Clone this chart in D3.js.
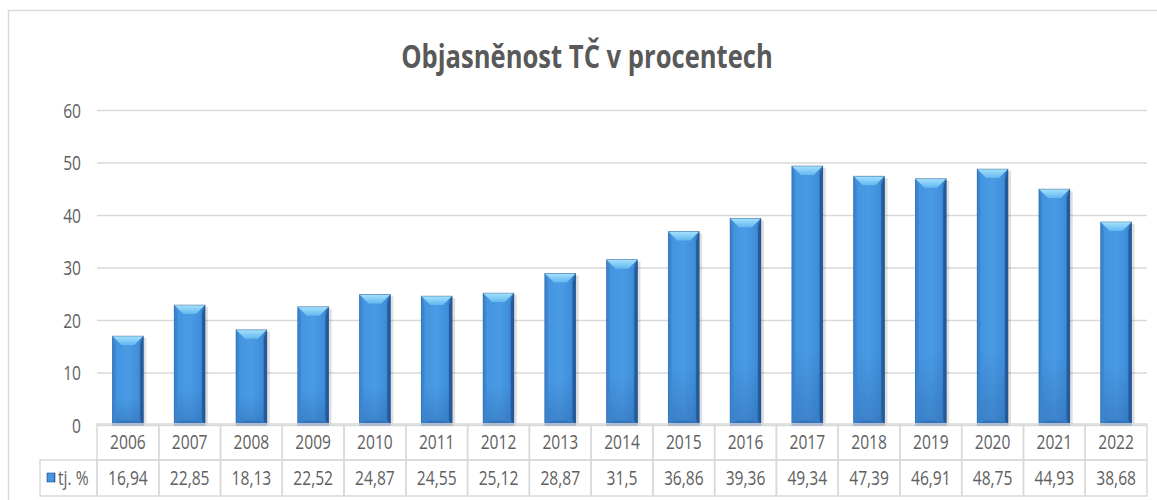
<!DOCTYPE html>
<html lang="cs">
<head>
<meta charset="UTF-8">
<title>Objasněnost TČ v procentech</title>
<script src="https://d3js.org/d3.v7.min.js"></script>
<style>
    body {
    margin: 0;
    background: white;
    }
    text {
    font-family: "Open Sans", "Noto Sans", sans-serif;
    fill: #5f5f5f;
    }
    .title {
    font-size: 32px;
    font-weight: bold;
    fill: #595959;
    }
    .tick-label {
    font-size: 19.5px;
    }
    .grid line {
    stroke: #d9d9d9;
    stroke-width: 1.5px;
    }
    .cell {
    stroke: #d9d9d9;
    stroke-width: 1.5px;
    fill: none;
    }
</style>
</head>
<body>
<svg id="chart" width="1157" height="500"></svg>
<script>
    const width = 1157;
    const height = 500;
    const sx = 0.8; // text is drawn narrower, like the original condensed font

    const years = ["2006", "2007", "2008", "2009", "2010", "2011", "2012", "2013", "2014",
                   "2015", "2016", "2017", "2018", "2019", "2020", "2021", "2022"];
    const values = [16.94, 22.85, 18.13, 22.52, 24.87, 24.55, 25.12, 28.87, 31.5,
                    36.86, 39.36, 49.34, 47.39, 46.91, 48.75, 44.93, 38.68];
    const yTicks = [0, 10, 20, 30, 40, 50, 60];
    const seriesName = "tj. %";
    const title = "Objasněnost TČ v procentech";

    const plot = {left: 97, right: 1147, top: 110, bottom: 425};
    const rowH = 36;

    const svg = d3.select("#chart")
                .attr("width", width)
                .attr("height", height);

    // outer chart frame
    svg.append("rect")
    .attr("x", 8.5)
    .attr("y", 10.5)
    .attr("width", width)
    .attr("height", height)
    .attr("fill", "none")
    .attr("stroke", "#d9d9d9")
    .attr("stroke-width", 1.5);

    const x = d3.scaleBand()
                .domain(years)
                .range([plot.left, plot.right])
                .paddingInner(0.5)
                .paddingOuter(0.25);
    const xCell = d3.scaleBand()
                .domain(years)
                .range([plot.left, plot.right]);
    const y = d3.scaleLinear()
                .domain([0, 60])
                .range([plot.bottom, plot.top]);

    function label(parent, tx, ty, str, cls, anchor) {
      return parent.append("text")
        .attr("class", cls)
        .attr("text-anchor", anchor || "middle")
        .attr("transform", `translate(${tx},${ty}) scale(${sx},1)`)
        .text(str);
    }

    // gradients for the bevelled bars
    const defs = svg.append("defs");
    const gBody = defs.append("linearGradient").attr("id", "barBody")
      .attr("x1", "0%").attr("x2", "100%").attr("y1", "0%").attr("y2", "0%");
    [["0%", "#3a85d2"], ["12%", "#4494e0"], ["50%", "#4a9be4"], ["85%", "#3f8edb"], ["100%", "#2a64a8"]]
      .forEach(s => gBody.append("stop").attr("offset", s[0]).attr("stop-color", s[1]));
    const gTop = defs.append("linearGradient").attr("id", "barTop")
      .attr("x1", "0%").attr("x2", "0%").attr("y1", "0%").attr("y2", "100%");
    [["0%", "#a6e2fd"], ["100%", "#62b7ef"]]
      .forEach(s => gTop.append("stop").attr("offset", s[0]).attr("stop-color", s[1]));
    const gBot = defs.append("linearGradient").attr("id", "barBot")
      .attr("x1", "0%").attr("x2", "0%").attr("y1", "0%").attr("y2", "100%");
    [["0%", "#3a80cb"], ["100%", "#2862a6"]]
      .forEach(s => gBot.append("stop").attr("offset", s[0]).attr("stop-color", s[1]));
    const gFade = defs.append("linearGradient").attr("id", "barFade")
      .attr("x1", "0%").attr("x2", "0%").attr("y1", "0%").attr("y2", "100%");
    [["0%", "#2c66a9", 0], ["70%", "#2c66a9", 0], ["100%", "#2c66a9", 0.45]]
      .forEach(s => gFade.append("stop").attr("offset", s[0]).attr("stop-color", s[1]).attr("stop-opacity", s[2]));

    // gridlines + y labels
    const axis = d3.axisLeft(y)
                .tickValues(yTicks)
                .tickSize(-(plot.right - plot.left))
                .tickPadding(16)
                .tickFormat(d3.format("d"));
    const gAxis = svg.append("g")
    .attr("class", "grid")
    .attr("transform", `translate(${plot.left},0)`)
    .call(axis);
    gAxis.select(".domain").remove();
    gAxis.attr("font-size", null).attr("font-family", null);
    gAxis.selectAll(".tick text")
    .attr("class", "tick-label")
    .attr("x", null)
    .attr("dy", "0.36em")
    .attr("fill", null)
    .attr("transform", `translate(-16,0) scale(${sx},1)`);

    // bars
    const b = 9;
    const bars = svg.selectAll(".bar")
    .data(values)
    .enter()
    .append("g")
    .attr("class", "bar");

    bars.each(function(d, i) {
      const g = d3.select(this);
      const x0 = x(years[i]);
      const x1 = x0 + x.bandwidth();
      const y0 = y(d);
      const y1 = y(0);
      // soft shadow
      g.append("rect")
        .attr("x", x0 + 1).attr("y", y0 + 2)
        .attr("width", x1 - x0 + 2).attr("height", y1 - y0 - 2)
        .attr("fill", "#000")
        .attr("opacity", 0.12);
      g.append("rect")
        .attr("x", x0).attr("y", y0)
        .attr("width", x1 - x0).attr("height", y1 - y0)
        .attr("fill", "url(#barBody)");
      g.append("rect")
        .attr("x", x0).attr("y", y0)
        .attr("width", x1 - x0).attr("height", y1 - y0)
        .attr("fill", "url(#barFade)");
      g.append("polygon")
        .attr("points", [[x0, y0], [x1, y0], [x1 - b, y0 + b], [x0 + b, y0 + b]].join(" "))
        .attr("fill", "url(#barTop)");
      g.append("polygon")
        .attr("points", [[x0, y1], [x1, y1], [x1 - b, y1 - 5], [x0 + b, y1 - 5]].join(" "))
        .attr("fill", "url(#barBot)");
      g.append("polygon")
        .attr("points", [[x0, y0], [x0 + 3, y0 + b], [x0 + 3, y1 - 5], [x0, y1]].join(" "))
        .attr("fill", "#3a84d0");
      g.append("polygon")
        .attr("points", [[x1, y0], [x1 - 3, y0 + b], [x1 - 3, y1 - 5], [x1, y1]].join(" "))
        .attr("fill", "#255a9a");
      g.append("rect")
        .attr("x", x0).attr("y", y0)
        .attr("width", x1 - x0).attr("height", y1 - y0)
        .attr("fill", "none")
        .attr("stroke", "#1f4f88")
        .attr("stroke-opacity", 0.5)
        .attr("stroke-width", 0.8);
    });

    // data table under the chart
    const t0 = plot.bottom - 1;
    const table = svg.append("g");
    years.forEach((yr, i) => {
      const cx = xCell(yr);
      table.append("rect")
        .attr("class", "cell")
        .attr("x", cx).attr("y", t0)
        .attr("width", xCell.bandwidth()).attr("height", rowH);
      table.append("rect")
        .attr("class", "cell")
        .attr("x", cx).attr("y", t0 + rowH)
        .attr("width", xCell.bandwidth()).attr("height", rowH);
      const mid = cx + xCell.bandwidth() / 2;
      label(table, mid, t0 + rowH / 2 + 7, yr, "tick-label");
      label(table, mid, t0 + rowH * 1.5 + 7, String(values[i]).replace(".", ","), "tick-label");
    });
    table.append("rect")
    .attr("class", "cell")
    .attr("x", 40).attr("y", t0 + rowH)
    .attr("width", plot.left - 40).attr("height", rowH);
    table.append("rect")
    .attr("x", 47).attr("y", t0 + rowH * 1.5 - 5)
    .attr("width", 8).attr("height", 9)
    .attr("fill", "url(#barBody)")
    .attr("stroke", "#1f4f88")
    .attr("stroke-width", 0.6);
    label(table, 58, t0 + rowH * 1.5 + 7, seriesName, "tick-label", "start");

    // title
    label(svg, 587, 68, title, "title");
</script>
</body>
</html>
